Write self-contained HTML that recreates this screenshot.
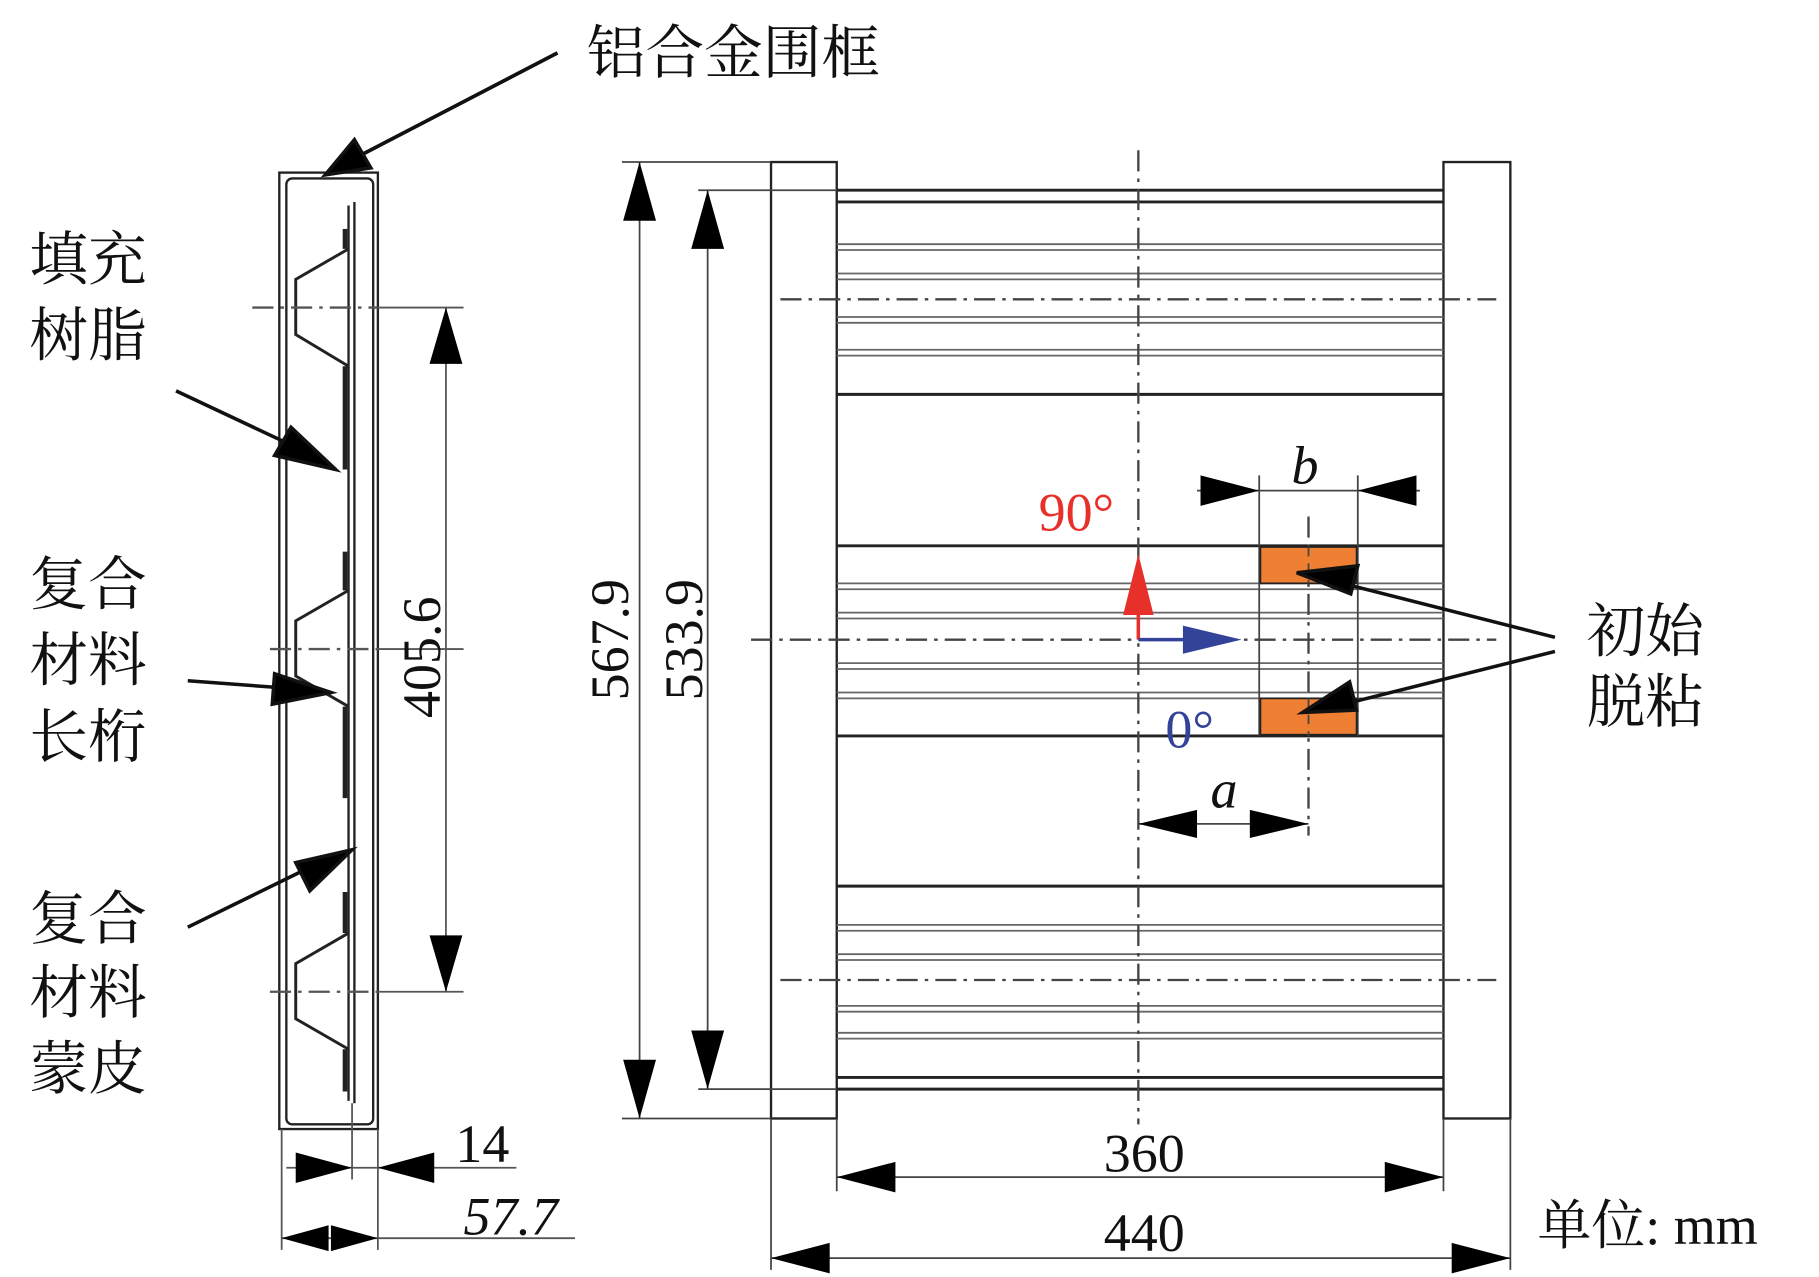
<!DOCTYPE html>
<html><head><meta charset="utf-8"><style>
html,body{margin:0;padding:0;background:#fff;}
svg{display:block;}
.cn{font-family:"Liberation Serif","Noto Serif CJK SC","Noto Sans CJK SC",serif;font-size:50px;fill:#111;}
.num{font-family:"Liberation Serif",serif;font-size:46px;fill:#111;}
</style></head><body>
<svg width="1819" height="1277" viewBox="0 0 1550 1088" xmlns="http://www.w3.org/2000/svg">
<defs>
<marker id="ah" viewBox="0 0 10 10" refX="10" refY="5" markerWidth="10" markerHeight="10" markerUnits="userSpaceOnUse" orient="auto"><path d="M0,0 L10,5 L0,10 z" fill="#000"/></marker>
</defs>
<g stroke="#222" fill="none" stroke-width="2">
<!-- Left side panel -->
<rect x="238" y="147" width="84" height="815"/>
<rect x="244" y="152" width="74" height="806" rx="5"/>
<line x1="297" y1="175" x2="297" y2="938"/>
<line x1="302" y1="172" x2="302" y2="940"/>
<g stroke-width="2.5">
<path d="M297,212 L252,238 L252,285 L297,312"/>
<path d="M297,503 L252,529 L252,576 L297,602"/>
<path d="M297,795 L252,821 L252,868 L297,894"/>
</g>
<g stroke-width="4">
<line x1="294" y1="195" x2="294" y2="212"/><line x1="294" y1="312" x2="294" y2="400"/>
<line x1="294" y1="470" x2="294" y2="503"/><line x1="294" y1="602" x2="294" y2="680"/>
<line x1="294" y1="760" x2="294" y2="795"/><line x1="294" y1="894" x2="294" y2="930"/>
</g>
<g stroke="#555" stroke-dasharray="18,6,3,6">
<line x1="215" y1="262" x2="322" y2="262"/>
<line x1="230" y1="553" x2="322" y2="553"/>
<line x1="230" y1="845" x2="322" y2="845"/>
</g>
<g stroke="#555" stroke-width="1.5">
<line x1="322" y1="262" x2="395" y2="262"/>
<line x1="322" y1="553" x2="395" y2="553"/>
<line x1="322" y1="845" x2="395" y2="845"/>
<line x1="380" y1="262" x2="380" y2="845"/>
<line x1="240" y1="962" x2="240" y2="1065"/>
<line x1="300" y1="940" x2="300" y2="1005"/>
<line x1="322" y1="962" x2="322" y2="1065"/>
<line x1="244" y1="995" x2="440" y2="995"/>
<line x1="240" y1="1055" x2="490" y2="1055"/>
</g>
<!-- Right front view -->
<rect x="657" y="138" width="56" height="815"/>
<rect x="1230" y="138" width="57" height="815"/>
<g stroke-width="2.5">
<line x1="713" y1="162" x2="1230" y2="162"/><line x1="713" y1="172" x2="1230" y2="172"/>
<line x1="713" y1="336" x2="1230" y2="336"/>
<line x1="713" y1="465" x2="1230" y2="465"/><line x1="713" y1="627" x2="1230" y2="627"/>
<line x1="713" y1="755" x2="1230" y2="755"/>
<line x1="713" y1="918" x2="1230" y2="918"/><line x1="713" y1="928" x2="1230" y2="928"/>
</g>
<g stroke="#666" stroke-width="1.5">
<path d="M713,208H1230M713,213H1230M713,233H1230M713,238H1230M713,270H1230M713,275H1230M713,298H1230M713,303H1230"/>
<path d="M713,497H1230M713,502H1230M713,522H1230M713,527H1230M713,565H1230M713,570H1230M713,590H1230M713,595H1230"/>
<path d="M713,788H1230M713,793H1230M713,813H1230M713,818H1230M713,857H1230M713,862H1230M713,880H1230M713,885H1230"/>
</g>
<g stroke="#444" stroke-dasharray="18,6,3,6">
<line x1="665" y1="255" x2="1275" y2="255"/>
<line x1="640" y1="545" x2="1275" y2="545"/>
<line x1="665" y1="835" x2="1275" y2="835"/>
<line x1="970" y1="128" x2="970" y2="958"/>
<line x1="1115" y1="440" x2="1115" y2="712"/>
</g>
<g stroke="#444" stroke-width="1.5">
<line x1="530" y1="138" x2="657" y2="138"/><line x1="530" y1="953" x2="657" y2="953"/>
<line x1="595" y1="162" x2="713" y2="162"/><line x1="595" y1="928" x2="713" y2="928"/>
<line x1="545" y1="138" x2="545" y2="953"/>
<line x1="603" y1="162" x2="603" y2="928"/>
<line x1="657" y1="953" x2="657" y2="1082"/><line x1="1287" y1="953" x2="1287" y2="1082"/>
<line x1="713" y1="953" x2="713" y2="1015"/><line x1="1230" y1="953" x2="1230" y2="1015"/>
<line x1="713" y1="1003" x2="1230" y2="1003"/>
<line x1="657" y1="1072" x2="1287" y2="1072"/>
<line x1="1073" y1="405" x2="1073" y2="627"/><line x1="1157" y1="405" x2="1157" y2="627"/>
<line x1="1020" y1="418" x2="1210" y2="418"/>
<line x1="970" y1="702" x2="1115" y2="702"/>
</g>
</g>
<rect x="1074" y="466" width="82" height="31" fill="#ee7f33" stroke="#222" stroke-width="1.5"/>
<rect x="1074" y="595" width="82" height="31" fill="#ee7f33" stroke="#222" stroke-width="1.5"/>
<line x1="1115" y1="466" x2="1115" y2="497" stroke="#444" stroke-width="1.5" stroke-dasharray="8,6"/>
<line x1="1115" y1="595" x2="1115" y2="627" stroke="#444" stroke-width="1.5" stroke-dasharray="8,6"/>
<!-- arrowheads -->
<g fill="#000">
<path d="M380,262 l-14,48 h28z"/><path d="M380,845 l-14,-48 h28z"/>
<path d="M545,138 l-14,50 h28z"/><path d="M545,953 l-14,-50 h28z"/>
<path d="M603,162 l-14,50 h28z"/><path d="M603,928 l-14,-50 h28z"/>
<path d="M713,1003 l50,-13 v26z"/><path d="M1230,1003 l-50,-13 v26z"/>
<path d="M657,1072 l50,-13 v26z"/><path d="M1287,1072 l-50,-13 v26z"/>
<path d="M1073,418 l-50,-13 v26z"/><path d="M1157,418 l50,-13 v26z"/>
<path d="M970,702 l50,-12 v24z"/><path d="M1115,702 l-50,-12 v24z"/>
<path d="M300,995 l-48,-13 v26z"/><path d="M322,995 l48,-13 v26z"/>
<path d="M240,1055 l40,-11 v22z"/><path d="M322,1055 l-40,-11 v22z"/>
</g>
<!-- leader arrows -->
<g stroke="#111" stroke-width="3" marker-end="url(#ah)">
<path d="M475,45 L300,136"/>
</g>
<g fill="#000" stroke="#111" stroke-width="3">
<line x1="475" y1="45" x2="300" y2="136"/><path d="M277,149 l25,-30 l14,24z"/>
<line x1="150" y1="333" x2="250" y2="380"/><path d="M286,400 l-52,-12 l14,-24z"/>
<line x1="160" y1="580" x2="240" y2="586"/><path d="M282,590 l-50,10 l2,-26z"/>
<line x1="160" y1="790" x2="262" y2="740"/><path d="M300,724 l-36,35 l-12,-24z"/>
<line x1="1325" y1="543" x2="1140" y2="496"/><path d="M1105,488 l52,-6 l-6,24z"/>
<line x1="1325" y1="555" x2="1145" y2="600"/><path d="M1110,607 l40,-26 l6,24z"/>
</g>
<!-- coordinate arrows -->
<line x1="970" y1="545" x2="970" y2="500" stroke="#e8302a" stroke-width="3"/>
<path d="M970,472 l-13,52 h26z" fill="#e8302a"/>
<line x1="970" y1="545" x2="1020" y2="545" stroke="#33439a" stroke-width="3"/>
<path d="M1058,545 l-50,-12 v24z" fill="#33439a"/>
<!-- text -->
<text class="cn" x="500" y="62">铝合金围框</text>
<text class="cn" x="25" y="238">填充</text><text class="cn" x="25" y="303">树脂</text>
<text class="cn" x="25" y="515">复合</text><text class="cn" x="25" y="580">材料</text><text class="cn" x="25" y="645">长桁</text>
<text class="cn" x="25" y="800">复合</text><text class="cn" x="25" y="863">材料</text><text class="cn" x="25" y="928">蒙皮</text>
<text class="cn" x="1352" y="555">初始</text><text class="cn" x="1352" y="615">脱粘</text>
<text class="num" x="1310" y="1060"><tspan font-family="Liberation Serif,Noto Serif CJK SC,serif">单位</tspan>: mm</text>
<text class="num" transform="translate(375,560) rotate(-90)" text-anchor="middle">405.6</text>
<text class="num" transform="translate(535,545) rotate(-90)" text-anchor="middle">567.9</text>
<text class="num" transform="translate(598,545) rotate(-90)" text-anchor="middle">533.9</text>
<text class="num" x="975" y="998" text-anchor="middle">360</text>
<text class="num" x="975" y="1066" text-anchor="middle">440</text>
<text class="num" x="388" y="990">14</text>
<text class="num" x="395" y="1052" font-style="italic">57.7</text>
<text class="num" x="1112" y="412" text-anchor="middle" font-style="italic">b</text>
<text class="num" x="1043" y="688" text-anchor="middle" font-style="italic">a</text>
<text class="num" x="885" y="452" fill="#e8302a" style="fill:#e8302a">90°</text>
<text class="num" x="993" y="637" style="fill:#33439a">0°</text>
</svg>
</body></html>
